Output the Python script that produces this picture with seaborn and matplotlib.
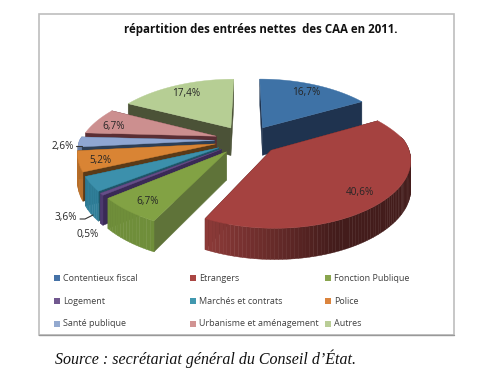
import numpy as np
import seaborn as sns
import matplotlib.pyplot as plt
from matplotlib.colors import to_rgb
from matplotlib.patches import Rectangle

# values
categories = ['Contentieux fiscal', 'Etrangers', 'Fonction Publique',
              'Logement', 'Marchés et contrats', 'Police',
              'Santé publique', 'Urbanisme et aménagement', 'Autres']
shares = [16.7, 40.6, 6.7, 0.5, 3.6, 5.2, 2.6, 6.7, 17.4]
share_labels = ['16,7%', '40,6%', '6,7%', '0,5%', '3,6%', '5,2%', '2,6%', '6,7%', '17,4%']

# colours
top_colors = ['#3E72A6', '#A54240', '#82A244', '#664E88', '#3C90AC', '#D98434', '#8FA6D2', '#CC8F8F', '#B6CE94']
cut_colors = ['#1F334F', '#421A18', '#5F7339', '#3A2A56', '#1F5568', '#5A3A18', '#2E3F56', '#5A2E34', '#4B5237']
rim_colors = ['#2F4F75', '#8E3B39', '#6F8E3A', '#4E3A70', '#2F7E98', '#B86E28', '#6C82AA', '#8E5A5A', '#7E9460']
legend_colors = ['#4572A7', '#AA4643', '#89A54E', '#71588F', '#4198AF', '#DB843D', '#93A9CF', '#D19392', '#B9CD96']

# layout, in pixels of the 491x392 picture
CX, CY = 247, 140
RX, RY = 135, 60.8
PERSP_BACK, PERSP_FRONT, PERSP_Y = 0.227, 0.13, 0.17
EXPLODE = 0.24
DEPTH = 28
label_pos = [(306, 92), (360, 192), (148, 201), (88, 234), (66, 217), (100, 160), (63, 146), (114, 126), (186, 93)]
draw_order = [8, 0, 7, 6, 5, 4, 3, 2, 1]  # back to front


def project(u, v, z=0.0):
    p = PERSP_BACK if v < 0 else PERSP_FRONT
    sx = 1.0 / (1.0 - p * v)
    sy = 1.0 / (1.0 - PERSP_Y * v)
    return CX + RX * u * sx, CY + RY * v * sy + DEPTH * z * np.sqrt(sy)


sns.set_theme(style='white')
plt.rcParams['font.family'] = ['Open Sans', 'DejaVu Sans']

fig = plt.figure(figsize=(4.91, 3.92), dpi=100)
ax = fig.add_axes([0, 0, 1, 1])
ax.set_xlim(0, 491)
ax.set_ylim(392, 0)
ax.axis('off')

# chart frame
ax.add_patch(Rectangle((39.5, 13.5), 415, 321.5, facecolor='white', edgecolor='#BEBEBE', linewidth=1.2))
ax.plot([39.5, 454.5], [335, 335], color='#999999', lw=1.0)

fractions = np.array(shares) / sum(shares)
ends = np.cumsum(fractions) * 2 * np.pi
starts = ends - fractions * 2 * np.pi

for i in draw_order:
    a0, a1 = starts[i], ends[i]
    mid = (a0 + a1) / 2
    ou, ov = EXPLODE * np.sin(mid), -EXPLODE * np.cos(mid)
    t = np.linspace(a0, a1, max(int((a1 - a0) * 40), 6))
    arc_u = ou + np.sin(t)
    arc_v = ov - np.cos(t)

    # cut faces
    for ang_u, ang_v in [(arc_u[0], arc_v[0]), (arc_u[-1], arc_v[-1])]:
        p = [project(ou, ov), project(ang_u, ang_v), project(ang_u, ang_v, 1), project(ou, ov, 1)]
        ax.fill(*zip(*p), color=cut_colors[i], lw=0.3)

    # outer rim, darker towards the right
    for k in range(len(t) - 1):
        if arc_v[k] < -0.05 and arc_v[k + 1] < -0.05:
            continue
        shade = np.clip(1 - (np.sin(t[k]) + 0.44) * 0.63, 0.47, 1)
        col = np.array(to_rgb(rim_colors[i])) * shade
        p = [project(arc_u[k], arc_v[k]), project(arc_u[k + 1], arc_v[k + 1]),
             project(arc_u[k + 1], arc_v[k + 1], 1), project(arc_u[k], arc_v[k], 1)]
        ax.fill(*zip(*p), color=col, lw=0.3)

    # top face
    top = [project(ou, ov)] + [project(a, b) for a, b in zip(arc_u, arc_v)]
    ax.fill(*zip(*top), color=top_colors[i], lw=0.3)

# value labels
for txt, (x, y) in zip(share_labels, label_pos):
    ax.text(x, y, txt, fontsize=7.2, color='#262626', ha='center', va='center')
ax.plot([76, 82], [146, 146], color='#333333', lw=0.8)
ax.plot([80, 85, 93], [219, 219, 215], color='#333333', lw=0.8)

# title
ax.text(260.5, 29, 'répartition des entrées nettes  des CAA en 2011.', fontsize=8.3, fontweight='bold',
        color='#111111', ha='center', va='center')

# legend
legend_x = [54, 190, 325]
legend_y = [278, 301, 323.5]
for n, name in enumerate(categories):
    lx = legend_x[n % 3]
    ly = legend_y[n // 3]
    ax.add_patch(Rectangle((lx, ly - 3), 6, 6, facecolor=legend_colors[n], edgecolor='none'))
    ax.text(lx + 9, ly + 0.5, name, fontsize=6.5, color='#404040', ha='left', va='center')

# source line
ax.text(55, 359, 'Source : secrétariat général du Conseil d’État.', family='Liberation Serif', style='italic',
        fontsize=11.5, color='#111111', ha='left', va='center')

fig.savefig('out.png', dpi=100)
